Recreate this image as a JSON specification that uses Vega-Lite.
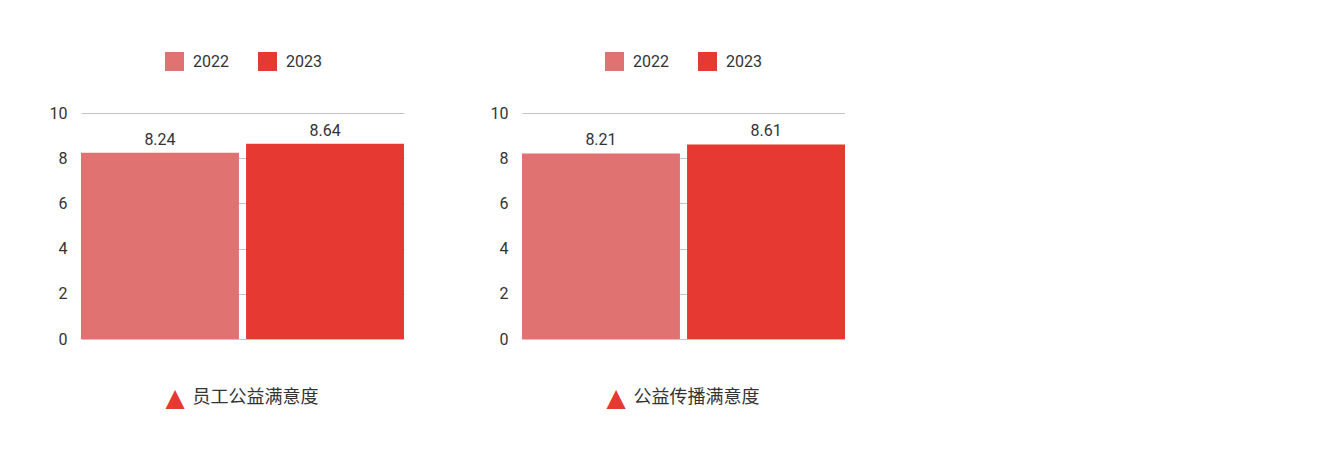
{
  "$schema": "https://vega.github.io/schema/vega-lite/v6.json",
  "background": "white",
  "padding": {"left": 49, "top": 52, "right": 0, "bottom": 0},
  "config": {
    "view": {"stroke": null},
    "font": "Roboto",
    "axis": {"labelFont": "Roboto"},
    "legend": {"labelFont": "Roboto"}
  },
  "datasets": {
    "bars": [
      {"metric": "员工公益满意度", "year": "2022", "value": 8.24},
      {"metric": "员工公益满意度", "year": "2023", "value": 8.64},
      {"metric": "公益传播满意度", "year": "2022", "value": 8.21},
      {"metric": "公益传播满意度", "year": "2023", "value": 8.61}
    ]
  },
  "spacing": 86,
  "resolve": {"legend": {"color": "independent"}},
  "hconcat": [
    {
      "width": 323,
      "height": 226,
      "data": {"name": "bars"},
      "transform": [{"filter": "datum.metric === '员工公益满意度'"}],
      "encoding": {
        "x": {"field": "metric", "type": "nominal", "scale": {"paddingInner": 0, "paddingOuter": 0}, "axis": null},
        "y": {
          "field": "value", "type": "quantitative",
          "scale": {"domain": [0, 10], "nice": false},
          "axis": {"values": [0, 2, 4, 6, 8, 10], "title": null, "domain": false, "ticks": false, "labelFontSize": 16, "labelColor": "#333333", "labelPadding": 14, "gridColor": "#c4c4c4", "gridWidth": 1}
        }
      },
      "layer": [
        {
          "mark": {"type": "bar"},
          "encoding": {
            "xOffset": {"field": "year", "type": "nominal", "scale": {"paddingInner": 0.043, "paddingOuter": 0}},
            "color": {
              "field": "year", "type": "nominal",
              "scale": {"domain": ["2022", "2023"], "range": ["#e07372", "#e53932"]},
              "legend": {"title": null, "orient": "none", "legendX": 84, "legendY": -61, "direction": "horizontal", "symbolType": "square", "symbolSize": 361, "symbolStrokeWidth": 0, "symbolOpacity": 1, "labelFontSize": 16, "labelColor": "#333333", "labelOffset": 9, "columnPadding": 29}
            }
          }
        },
        {
          "mark": {"type": "text", "baseline": "bottom", "dy": -5, "fontSize": 16, "color": "#333333", "font": "Roboto"},
          "encoding": {
            "xOffset": {"field": "year", "type": "nominal", "scale": {"paddingInner": 0.043, "paddingOuter": 0}},
            "text": {"field": "value", "type": "quantitative", "format": ".2f"}
          }
        },
        {
          "transform": [{"filter": "datum.year === '2022'"}],
          "mark": {"type": "text", "text": "▲", "align": "left", "baseline": "middle", "dx": -77, "fontSize": 25, "font": "DejaVu Sans", "color": "#e53932"},
          "encoding": {"y": {"datum": -2.6}}
        },
        {
          "transform": [{"filter": "datum.year === '2022'"}],
          "mark": {"type": "text", "align": "left", "baseline": "middle", "dx": -50, "fontSize": 18, "font": "Noto Sans CJK SC", "color": "#333333"},
          "encoding": {"y": {"datum": -2.6}, "text": {"field": "metric", "type": "nominal"}}
        }
      ]
    },
    {
      "width": 323,
      "height": 226,
      "data": {"name": "bars"},
      "transform": [{"filter": "datum.metric === '公益传播满意度'"}],
      "encoding": {
        "x": {"field": "metric", "type": "nominal", "scale": {"paddingInner": 0, "paddingOuter": 0}, "axis": null},
        "y": {
          "field": "value", "type": "quantitative",
          "scale": {"domain": [0, 10], "nice": false},
          "axis": {"values": [0, 2, 4, 6, 8, 10], "title": null, "domain": false, "ticks": false, "labelFontSize": 16, "labelColor": "#333333", "labelPadding": 14, "gridColor": "#c4c4c4", "gridWidth": 1}
        }
      },
      "layer": [
        {
          "mark": {"type": "bar"},
          "encoding": {
            "xOffset": {"field": "year", "type": "nominal", "scale": {"paddingInner": 0.043, "paddingOuter": 0}},
            "color": {
              "field": "year", "type": "nominal",
              "scale": {"domain": ["2022", "2023"], "range": ["#e07372", "#e53932"]},
              "legend": {"title": null, "orient": "none", "legendX": 83, "legendY": -61, "direction": "horizontal", "symbolType": "square", "symbolSize": 361, "symbolStrokeWidth": 0, "symbolOpacity": 1, "labelFontSize": 16, "labelColor": "#333333", "labelOffset": 9, "columnPadding": 29}
            }
          }
        },
        {
          "mark": {"type": "text", "baseline": "bottom", "dy": -5, "fontSize": 16, "color": "#333333", "font": "Roboto"},
          "encoding": {
            "xOffset": {"field": "year", "type": "nominal", "scale": {"paddingInner": 0.043, "paddingOuter": 0}},
            "text": {"field": "value", "type": "quantitative", "format": ".2f"}
          }
        },
        {
          "transform": [{"filter": "datum.year === '2022'"}],
          "mark": {"type": "text", "text": "▲", "align": "left", "baseline": "middle", "dx": -77, "fontSize": 25, "font": "DejaVu Sans", "color": "#e53932"},
          "encoding": {"y": {"datum": -2.6}}
        },
        {
          "transform": [{"filter": "datum.year === '2022'"}],
          "mark": {"type": "text", "align": "left", "baseline": "middle", "dx": -50, "fontSize": 18, "font": "Noto Sans CJK SC", "color": "#333333"},
          "encoding": {"y": {"datum": -2.6}, "text": {"field": "metric", "type": "nominal"}}
        }
      ]
    }
  ]
}
